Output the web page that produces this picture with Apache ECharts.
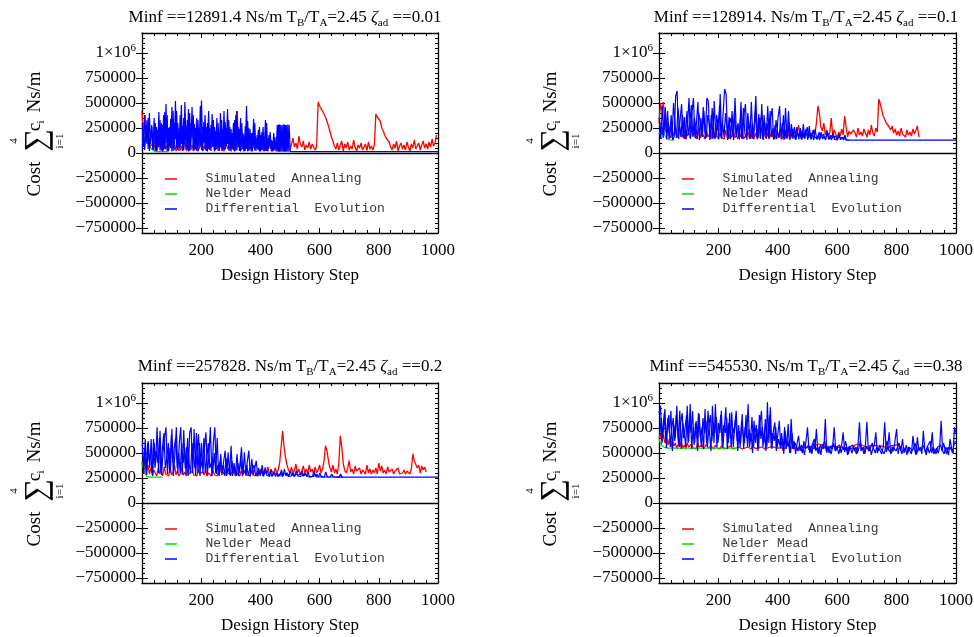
<!DOCTYPE html>
<html><head><meta charset="utf-8">
<script src="https://cdn.jsdelivr.net/npm/echarts@6/dist/echarts.min.js"></script>
<style>html,body{margin:0;padding:0;background:#fff}#c{width:974px;height:637px}</style>
</head><body><div id="c"></div><script>
// ---- data (cost values in thousands of Ns/m) ----
const xTickLabels = [200, 400, 600, 800, 1000];
const yTickLabels = [-750000, -500000, -250000, 0, 250000, 500000, 750000, 1000000];
const seriesNames = ['Simulated Annealing', 'Nelder Mead', 'Differential Evolution'];
const minfText = ['12891.4', '128914.', '257828.', '545530.'];
const zetaText = ['0.01', '0.1', '0.2', '0.38'];

// Panel 1 (zeta = 0.01)
const sa1 = [420,150,380,100,280,60,
 40,90,30,150,20,70,110,25,60,200,35,80,20,130,45,
 30,90,20,60,160,25,70,40,110,20,50,190,30,80,20,60,130,25,40,90,20,70,30,150,40,20,60,100,25,50,35,120,80,20,60,30,90,40,20,70,
 50,25,90,420,200,60,30,80,20,50,110,30,60,25,90,40,20,70,130,35,60,20,90,50,25,140,40,70,20,100,
 60,110,40,130,70,30,90,50,120,40,80,150,60,100,40,170,90,60,120,30,80,50,110,40,90,60,30,70,
 510,470,490,420,430,360,340,270,250,160,120,70,
 40,100,30,80,120,20,90,50,110,30,70,40,130,60,20,80,50,100,30,60,90,25,110,40,70,30,80,
 390,360,370,320,250,220,180,150,130,110,
 60,30,90,50,120,20,70,100,40,80,30,110,60,20,90,50,130,40,70,100,30,80,120,50,90,40,110,60,140,70,100,180];
const nm1Steps = [0,5,10,15,20,25,30,35,40,45,90];
const nm1 = [130,170,150,120,95,70,50,30,20,13,12.9];
const de1 = [300,60,380,150,330,40,400,90,280,30, 350,20,260,60,410,25,300,15,380,40,
 490,20,250,70,340,15,420,30,520,50, 300,20,380,90,270,25,510,40,330,15,
 400,60,460,20,290,35,350,15,250,70, 525,20,310,45,260,15,420,30,280,60,
 330,15,220,40,300,20,400,50,240,15, 310,70,440,25,260,15,200,40,330,20,
 420,60,240,15,300,35,180,20,470,15, 250,50,200,15,340,25,150,40,230,15,
 180,30,260,15,330,20,140,45,210,15, 120,30,160,15,280,13,285,13,280,13, 285,13,280,13,280,13];
const de1b = [40,250,30,200,90,350,20,180,260,40, 150,300,20,230,60,330,40,280,25,410,
 100,380,20,260,50,460,20,300,140,420, 30,250,60,480,20,350,90,270,30,440,
 20,300,150,380,40,250,20,330,60,470, 30,260,100,380,20,300,45,250,20,390,
 70,260,30,350,20,210,60,330,25,420, 40,250,90,330,20,240,45,300,15,380,
 30,260,20,350,60,200,15,270,40,320, 20,240,15,200,80,300,20,180,30,260,
 15,210,40,150,20,300,15,180,60,130, 15,200,30,110,15,285,13,280,13,285, 13,280,13,285,13];
const de1TailSteps = [1000];
const de1Tail = [12.9];

// Panel 2 (zeta = 0.1)
const sa2 = [300,500,420,510,250,200,320,180,150,220, 170,240,150,200,260,160,190,140,230,170,
 200,150,260,170,220,140,180,240,150,200, 170,140,220,160,190,140,210,150,250,170,
 140,200,160,180,140,230,150,190,140,170, 220,150,180,140,200,160,230,140,170,150,
 210,140,180,160,140,200,150,260,300,380, 300,180,150,200,140,170,220,150,180,140,
 210,160,190,140,170,230,150,190,140,200, 160,250,150,200,280,170,220,150,190,240,
 160,210,170,150,230,190,300,470,400,260, 220,300,180,230,160,200,350,170,230,190,
 150,210,170,240,180,370,260,160,220,190, 170,230,200,160,250,180,210,170,240,200,
 160,230,180,280,200,170,250,210,540,490, 430,370,380,300,320,260,230,270,200,240,
 180,220,170,250,190,200,160,230,180,210, 170,240,190,200,270,160];
const nm2Steps = [0,5,10,15,20,25,30,35,40,50];
const nm2 = [190,220,235,210,175,150,138,131,129,128.9];
const de2 = [350,140,470,180,460,135,300,150,380,130, 160,570,620,140,330,490,150,360,135,280,
 550,140,400,550,150,300,510,130,350,160, 420,140,550,520,130,380,140,520,150,310,
 135,590,140,400,640,590,130,360,150,420, 130,550,160,300,135,510,140,380,490,130,
 330,150,510,140,280,570,135,390,140,490, 130,300,140,470,150,350,450,130,280,140,
 360,470,135,300,130,450,140,420,130,290, 140,260,130,220,135,250,130,290,140,230,
 130,270,135,200,130,240,135,180,130,210, 140,170,130,220,135,160,130,200,135,150,
 130,190,132,160,130,180,130,140,129];
const de2b = [200,300,150,380,250,420,140,300,180,500, 300,150,450,280,160,380,250,140,420,180,
 300,480,160,350,260,140,400,300,180,460, 250,150,380,300,160,450,200,140,380,260,
 480,150,300,160,400,250,140,350,300,160, 420,180,280,150,350,140,450,200,150,400,
 250,140,300,160,420,200,150,350,260,140, 380,180,300,150,420,160,250,140,330,200,
 150,300,160,380,140,250,180,300,150,240, 180,140,260,160,200,140,220,150,180,260,
 150,200,140,230,160,180,140,210,150,170, 190,140,160,200,140,180,150,140,170,135,
 160,140,150,130,155,130,140,130];
const de2TailSteps = [1000];
const de2Tail = [128.9];

// Panel 3 (zeta = 0.2)
const sa3 = [400,340,420,320,380,290,350,280,330,300, 270,350,290,320,270,360,290,300,270,340,
 280,310,380,280,320,270,300,350,280,310, 270,330,290,270,320,280,300,270,340,290,
 270,310,280,330,270,300,290,270,320,280, 300,270,400,380,280,310,270,330,290,270,
 310,280,350,270,300,280,270,320,290,270, 310,280,300,270,330,280,300,270,320,290,
 340,300,280,330,290,360,300,280,320,290, 350,300,330,400,560,723,560,450,380,330,
 300,360,290,330,390,300,340,280,320,370, 300,340,290,380,310,340,290,360,300,330,
 380,300,340,420,573,523,420,350,310,380, 300,340,290,400,673,560,390,330,300,350,
 423,310,340,290,370,320,300,350,290,330, 310,290,380,300,340,290,330,300,350,290,
 400,320,370,300,330,290,360,310,300,340, 290,320,300,350,290,310,300,330,290,320,
 300,290,340,490,420,430,350,380,300,370, 330,360,310];
const nm3Steps = [0,5,10,15,20,25,70];
const nm3 = [410,350,300,270,262,258,257.8];
const de3 = [600,300,640,280,620,350,640,270,600,400, 757,300,720,280,500,650,757,290,550,320,
 740,270,480,757,300,600,757,280,730,350, 560,270,700,757,300,740,280,520,690,270,
 600,300,560,707,280,480,757,270,600,757, 290,380,270,490,300,420,523,270,507,280,
 573,270,400,280,490,270,380,557,280,507, 270,420,523,265,440,280,350,423,265,320,
 290,380,265,357,280,300,265,340,270,310, 265,300,280,270,330,265,340,270,300,265,
 323,270,300,265,323,270,290,265,323,270, 300,265,310,262,280,265,320,262,290,260,
 300,262,280,260,310,262,270,260,290,260, 270,260,280,258,290,258,258];
const de3b = [350,550,300,600,420,500,300,640,350,520, 400,650,300,550,700,350,450,600,300,680,
 400,560,650,350,500,300,600,400,550,280, 650,400,300,600,450,350,700,300,600,420,
 350,650,300,450,600,350,400,300,500,300, 650,280,420,300,380,280,450,300,350,270,
 420,300,350,270,400,300,450,270,330,300, 380,270,350,300,280,380,270,300,350,270,
 330,270,300,280,320,270,300,265,290,270, 300,265,280,300,265,290,270,300,265,280,
 270,300,265,290,270,280,265,300,270,265, 290,265,280,262,270,265,290,262,270,260,
 280,262,270,260,275,260,265,260,270,260, 265,258,270,258,260,258];
const de3TailSteps = [1000];
const de3Tail = [257.8];

// Panel 4 (zeta = 0.38)
const sa4 = [650,690,620,680,600,660,580,640,560,620, 570,600,540,590,560,610,550,580,540,600,
 560,540,590,550,570,540,600,560,550,580, 540,560,590,550,540,570,550,540,580,550,
 560,540,570,550,540,560,550,540,570,550, 540,560,550,545,560,550,540,560,550,545,
 560,550,540,570,550,545,560,550,545,560, 550,545,560,550,545,560,550,560,545,550,
 560,550,570,550,560,545,555,590,560,550, 545,560,550,555,545,560,550,545,560,550,
 555,545,560,550,545,560,580,560,590,570, 580,560,550,560,550,545,570,590,570,580,
 560,550,555,545,560,550,545,560,550,555, 545,560,580,570,590,575,580,560,570,555,
 545,560,575,580,570,560,575,580,565,560, 570,555,560,550,545,560,570,560,575,560,
 580,565,570,555];
const nm4Steps = [0,5,10,15,20,30,270];
const nm4 = [640,600,570,560,555,550,548];
const de4 = [900,973,600,800,940,550,850,700,923,520, 780,650,973,600,923,540,800,700,560,973,
 620,990,540,760,600,820,520,890,650,760, 540,940,600,923,700,520,973,600,990,560,
 800,700,923,550,760,957,540,800,640,907, 560,780,923,520,720,600,890,540,760,650,
 990,560,700,500,823,600,740,540,800,923, 560,700,520,1007,600,957,540,720,807,520,
 680,823,550,640,490,720,560,790,500,840, 550,620,490,600,673,520,580,550,480,620,
 757,530,570,490,600,540,740,500,560,480, 590,540,840,500,570,530,490,580,757,520,
 560,490,550,580,707,510,560,480,570,540, 500,560,530,490,580,807,520,550,490,570,
 813,520,560,480,550,580,707,500,550,520, 490,560,807,510,550,707,490,560,520,540,
 740,490,560,530,640,500,550,480,560,520, 490,673,540,480,657,520,560,490,723,530,
 480,560,500,540,707,490,480,550,500,560, 823,520,490,560,530,480,640,550,500,757, 700];
const de4b = [700,850,650,900,600,780,880,560,750,850, 620,880,700,560,800,900,650,760,880,600,
 840,700,920,580,800,650,900,700,560,850, 700,820,560,760,880,620,800,700,860,600,
 720,880,560,780,700,850,600,900,560,760, 700,850,620,780,560,820,700,600,880,560,
 740,620,860,560,700,780,520,880,640,760, 600,840,560,760,880,560,700,620,760,560,
 640,560,700,520,760,540,620,560,500,700, 540,600,560,520,580,550,500,620,540,560,
 580,500,560,540,640,520,560,490,580,540, 560,620,520,560,500,570,540,600,520,560,
 540,580,500,560,530,620,550,490,560,540, 580,520,560,500,550,620,530,560,490,570,
 560,520,560,600,540,500,560,520,580,540, 560,490,560,620,530,550,500,560,540,520,
 560,600,540,490,560,520,580,500,560,540, 520,560,600,490,560,540,520,580,550,500,
 560,540,620,500,560,530,490,560,540,580, 520,600,540,490,560,530,560,500,580,620];

// ---- build ----
const seq = (start, stride, vals) => vals.map((v, i) => [start + i * stride, v * 1000]);
const pts = (steps, vals) => steps.map((s, i) => [s, vals[i] * 1000]);
// DE history is drawn as two interleaved sub-runs of the population (same colour, same legend entry)
const panelData = [
  { sa: seq(0,5,sa1), nm: pts(nm1Steps,nm1), de: seq(1,4,de1).concat(pts(de1TailSteps,de1Tail)), deB: seq(1,4,de1b) },
  { sa: seq(0,5,sa2), nm: pts(nm2Steps,nm2), de: seq(1,5,de2).concat(pts(de2TailSteps,de2Tail)), deB: seq(4,5,de2b) },
  { sa: seq(0,5,sa3), nm: pts(nm3Steps,nm3), de: seq(1,5,de3).concat(pts(de3TailSteps,de3Tail)), deB: seq(4,5,de3b) },
  { sa: seq(0,5,sa4), nm: pts(nm4Steps,nm4), de: seq(0,5,de4), deB: seq(3,5,de4b) }
];

const SERIF = 'Liberation Serif', MONO = 'Liberation Mono';
const layout = [
  { left: 142, top: 33, w: 296, tx: 285, ty: 7, lx: 36.5, ly: 133 },
  { left: 659, top: 33, w: 297, tx: 806, ty: 7, lx: 552.5, ly: 133 },
  { left: 142, top: 383, w: 296, tx: 290, ty: 356, lx: 36.5, ly: 483 },
  { left: 659, top: 383, w: 297, tx: 806, ty: 356, lx: 552.5, ly: 483 }
];
const colors = ['#ff0000', '#00dd00', '#0000ff'];
const widths = [1.3, 1.3, 1.2];
const dispNames = { 'Simulated Annealing': 'Simulated  Annealing', 'Nelder Mead': 'Nelder Mead', 'Differential Evolution': 'Differential  Evolution' };

const grid = [], xAxis = [], yAxis = [], series = [], legend = [], title = [], graphic = [];
const axisLineStyle = { color: '#000', width: 1.3 };

function yFmt(v) {
  if (yTickLabels.indexOf(v) < 0) return '';
  if (v === 1000000) return '{a|1×10}{p|6}';
  if (v < 0) return '−' + (-v);
  return String(v);
}

function yLabel(cx, cy) {
  const t = (txt, x, y, size) => ({ type: 'text', x: x, y: y, style: { text: txt, font: size + 'px "' + SERIF + '"', fill: '#000', align: 'center', verticalAlign: 'middle' } });
  return { type: 'group', x: cx, y: cy, rotation: Math.PI / 2, silent: true, children: [
    t('Cost', -46, -1, 19), t('∑', -7, 1, 32), t('4', -8, -22, 11), t('i=1', -8, 24, 11),
    t('c', 6, -1, 19), t('i', 11, 5, 11), t('Ns/m', 41, -1, 19)
  ] };
}

layout.forEach((L, k) => {
  grid.push({ left: L.left, top: L.top, width: L.w, height: 200, containLabel: false, outerBoundsMode: 'none' });
  const xb = { gridIndex: k, type: 'value', min: 0, max: 1000, interval: 200, position: 'bottom',
    axisLine: { show: true, onZero: false, lineStyle: axisLineStyle },
    axisTick: { show: true, inside: true, length: 5, lineStyle: { color: '#000' } },
    minorTick: { show: true, splitNumber: 5, length: 3, lineStyle: { color: '#000' } },
    splitLine: { show: false },
    axisLabel: { formatter: v => (xTickLabels.indexOf(v) >= 0 ? String(v) : ''), fontFamily: SERIF, fontSize: 17, color: '#000', margin: 9 },
    name: 'Design History Step', nameLocation: 'middle', nameGap: 34,
    nameTextStyle: { fontFamily: SERIF, fontSize: 17, color: '#000' } };
  const xt = Object.assign({}, xb, { position: 'top', axisLabel: { show: false }, name: '' });
  xAxis.push(xb, xt);
  const yBase = { gridIndex: k, type: 'value', min: -800000, max: 1200000, interval: 50000,
    splitLine: { show: false }, axisLine: { show: true, onZero: false, lineStyle: axisLineStyle },
    axisTick: { show: true, inside: true, length: 3, lineStyle: { color: '#000' } } };
  yAxis.push(Object.assign({}, yBase, { position: 'left',
    axisLabel: { interval: 0, formatter: yFmt, fontFamily: SERIF, fontSize: 17, color: '#000', margin: 6,
      rich: { a: { fontFamily: SERIF, fontSize: 17, color: '#000', lineHeight: 20 }, p: { fontFamily: SERIF, fontSize: 11, color: '#000', lineHeight: 11, verticalAlign: 'top' } } } }));
  yAxis.push(Object.assign({}, yBase, { position: 'left', axisLine: { show: false },
    axisTick: { show: true, inside: true, length: 6, customValues: yTickLabels, lineStyle: { color: '#000' } }, axisLabel: { show: false } }));
  yAxis.push(Object.assign({}, yBase, { position: 'right', axisLabel: { show: false } }));
  yAxis.push(Object.assign({}, yBase, { position: 'right', axisLine: { show: false },
    axisTick: { show: true, inside: true, length: 6, customValues: yTickLabels, lineStyle: { color: '#000' } }, axisLabel: { show: false } }));

  const D = panelData[k];
  const common = { type: 'line', xAxisIndex: 2 * k, yAxisIndex: 4 * k, showSymbol: false, symbol: 'none', animation: false };
  series.push(Object.assign({}, common, { name: seriesNames[0], data: D.sa, color: colors[0], lineStyle: { color: colors[0], width: widths[0] },
    markLine: { silent: true, symbol: 'none', label: { show: false }, lineStyle: { color: '#000', width: 1.4, type: 'solid' }, data: [{ yAxis: 0 }] } }));
  series.push(Object.assign({}, common, { name: seriesNames[1], data: D.nm, color: colors[1], lineStyle: { color: colors[1], width: widths[1] } }));
  series.push(Object.assign({}, common, { name: seriesNames[2], data: D.de, color: colors[2], lineStyle: { color: colors[2], width: widths[2] } }));
  series.push(Object.assign({}, common, { name: seriesNames[2], data: D.deB, color: colors[2], lineStyle: { color: colors[2], width: widths[2] } }));

  legend.push({ left: L.left + 23, top: L.top + 138.5, orient: 'vertical', selectedMode: false, data: seriesNames.slice(),
    icon: 'rect', itemWidth: 12, itemHeight: 1.5, itemGap: 0, padding: 0,
    formatter: n => '   ' + dispNames[n],
    textStyle: { fontFamily: MONO, fontSize: 13, color: '#3a3a3a', lineHeight: 15 } });

  title.push({ left: L.tx, top: L.ty, textAlign: 'center', padding: 0,
    text: '{t|Minf ==' + minfText[k] + ' Ns/m T}{s|B}{t|/T}{s|A}{t|=2.45 }{z|ζ}{s|ad}{t| ==' + zetaText[k] + '}',
    textStyle: { fontWeight: 'normal', rich: {
      t: { fontFamily: SERIF, fontSize: 17, fontWeight: 'normal', color: '#000', lineHeight: 22 },
      z: { fontFamily: SERIF, fontSize: 17, fontWeight: 'normal', color: '#000', lineHeight: 22, fontStyle: 'italic' },
      s: { fontFamily: SERIF, fontSize: 11, fontWeight: 'normal', color: '#000', lineHeight: 11, verticalAlign: 'bottom' } } } });

  graphic.push(yLabel(L.lx, L.ly));
});

const chart = echarts.init(document.getElementById('c'), null, { renderer: 'canvas' });
chart.setOption({ animation: false, backgroundColor: '#fff', grid, xAxis, yAxis, series, legend, title, graphic });
</script></body></html>
